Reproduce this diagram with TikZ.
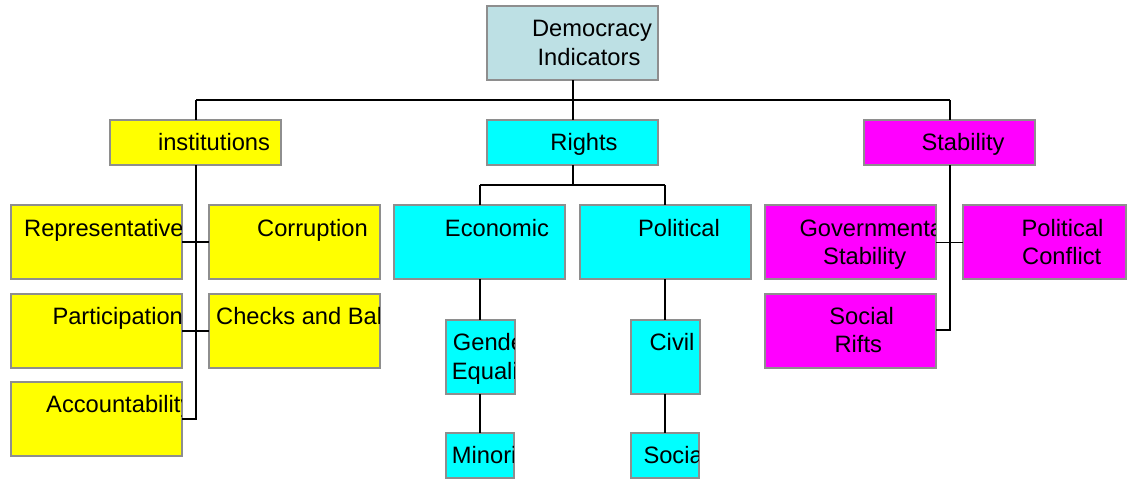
\documentclass[tikz,border=0pt]{standalone}
\usepackage{fontspec}
\setmainfont{Liberation Sans}
\definecolor{topblue}{HTML}{BDE0E4}
\definecolor{bordergray}{HTML}{8E8E8E}
\definecolor{ylw}{RGB}{255,255,0}
\definecolor{cyn}{RGB}{0,255,255}
\definecolor{mgt}{RGB}{255,0,255}
\tikzset{
  bx/.style={draw=bordergray, line width=1.3pt, inner sep=0pt, outer sep=0pt, rectangle},
  txt/.style={inner sep=0pt, font=\fontsize{23.7}{28}\selectfont},
  conn/.style={draw=black, line width=1.2pt},
}
\newcommand\bx[6]{% name, x, y, w, h, fill
  \node[bx, fill=#6, minimum width=#4pt, minimum height=#5pt, anchor=north west] (#1) at (#2,#3) {};}
\newcommand\lbl[5]{% box, anchor, x, baseline y, text
  \begin{scope}
    \clip ([xshift=0.6pt,yshift=0.6pt]#1.south west) rectangle ([xshift=-0.6pt,yshift=-0.6pt]#1.north east);
    \node[txt, anchor=base #2] at (#3,#4) {#5};
  \end{scope}}
\begin{document}
\begin{tikzpicture}[x=1pt,y=-1pt]
\useasboundingbox (0,0) rectangle (1127,479);
% boxes
\bx{dem}{487}{6}{171}{74}{topblue}
\bx{inst}{110}{120}{171}{45}{ylw}
\bx{rights}{487}{120}{171}{45}{cyn}
\bx{stab}{864}{120}{171}{45}{mgt}
\bx{rep}{11}{205}{171}{74}{ylw}
\bx{corr}{209}{205}{171}{74}{ylw}
\bx{part}{11}{294}{171}{74}{ylw}
\bx{checks}{209}{294}{171}{74}{ylw}
\bx{acc}{11}{382}{171}{74}{ylw}
\bx{econ}{394}{205}{171}{74}{cyn}
\bx{pol}{580}{205}{171}{74}{cyn}
\bx{gender}{446}{320}{69}{74}{cyn}
\bx{minor}{446}{433}{68}{45}{cyn}
\bx{civil}{631}{320}{69}{74}{cyn}
\bx{social}{631}{433}{68}{45}{cyn}
\bx{gov}{765}{205}{171}{74}{mgt}
\bx{conf}{963}{205}{163}{74}{mgt}
\bx{rifts}{765}{294}{171}{74}{mgt}
% connectors
\coordinate (busL) at (196,100);
\coordinate (busM) at (573,100);
\coordinate (busR) at (950,100);
\draw[conn] (dem.south -| busM) -- (busM);
\draw[conn] (busL) -- (busR);
\draw[conn] (busL) -- (inst.north -| busL);
\draw[conn] (busM) -- (rights.north -| busM);
\draw[conn] (busR) -- (stab.north -| busR);
% institutions
\coordinate (iend) at (196,419);
\draw[conn] (inst.south -| iend) -- (iend) -- (acc.east |- iend);
\draw[conn] (rep.east |- 0,242) -- (corr.west |- 0,242);
\draw[conn] (part.east |- 0,331) -- (checks.west |- 0,331);
% rights
\coordinate (rb) at (573,185);
\coordinate (rbl) at (480,185);
\coordinate (rbr) at (665,185);
\draw[conn] (rights.south -| rb) -- (rb);
\draw[conn] (rbl) -- (rbr);
\draw[conn] (rbl) -- (econ.north -| rbl);
\draw[conn] (rbr) -- (pol.north -| rbr);
\draw[conn] (econ.south -| rbl) -- (gender.north -| rbl);
\draw[conn] (gender.south -| rbl) -- (minor.north -| rbl);
\draw[conn] (pol.south -| rbr) -- (civil.north -| rbr);
\draw[conn] (civil.south -| rbr) -- (social.north -| rbr);
% stability
\coordinate (send) at (950,330);
\draw[conn] (stab.south -| send) -- (send) -- (rifts.east |- send);
\draw[conn] (gov.east |- 0,242.5) -- (conf.west |- 0,242.5);
% labels
\lbl{dem}{}{592}{36.7}{Democracy}
\lbl{dem}{}{589}{65}{Indicators}
\lbl{inst}{}{214}{150.7}{institutions}
\lbl{rights}{}{584}{150.7}{Rights}
\lbl{stab}{}{963}{150.7}{Stability}
\lbl{rep}{west}{24}{236}{Representative}
\lbl{corr}{}{312.5}{236}{Corruption}
\lbl{part}{west}{52.3}{324}{Participation}
\lbl{checks}{west}{216}{324}{Checks and Balances}
\lbl{acc}{west}{46}{412.5}{Accountability}
\lbl{econ}{}{497}{236}{Economic}
\lbl{pol}{}{679}{236}{Political}
\lbl{gender}{west}{452.7}{350.5}{Gender}
\lbl{gender}{west}{451.7}{379.3}{Equality}
\lbl{minor}{west}{451.7}{463.5}{Minority}
\lbl{civil}{}{672}{350.5}{Civil}
\lbl{social}{west}{643.3}{463.5}{Social}
\lbl{gov}{west}{799.3}{236}{Governmental}
\lbl{gov}{}{864.7}{264.5}{Stability}
\lbl{conf}{}{1062.5}{236}{Political}
\lbl{conf}{}{1061.7}{264.5}{Conflict}
\lbl{rifts}{}{861.7}{324}{Social}
\lbl{rifts}{}{858.3}{352.5}{Rifts}
\end{tikzpicture}
\end{document}
